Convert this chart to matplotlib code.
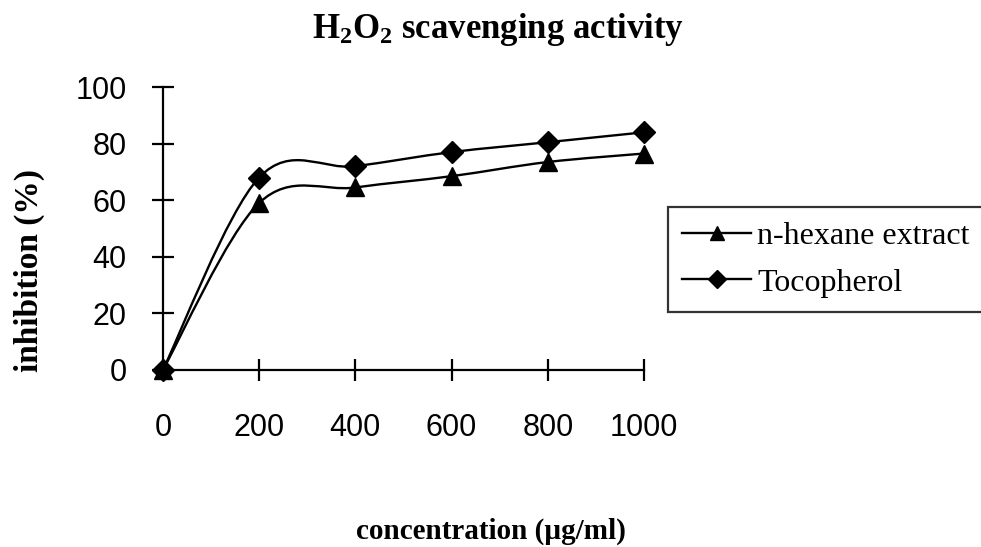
import numpy as np
import matplotlib.pyplot as plt
from matplotlib.path import Path
from matplotlib.patches import PathPatch
from matplotlib.lines import Line2D

concentration = [0, 200, 400, 600, 800, 1000]
hexane = [0, 59, 64.5, 68.5, 73.5, 76.5]
tocopherol = [0, 68, 72, 77, 80.5, 84]
series_names = ["n-hexane extract", "Tocopherol"]


def smooth_path(xs, ys):
    # excel-style smoothed line: cubic bezier through every point
    pts = np.column_stack([xs, ys]).astype(float)
    ext = np.vstack([pts[0], pts, pts[-1]])
    verts = [pts[0]]
    codes = [Path.MOVETO]
    for i in range(len(pts) - 1):
        p0, p1, p2, p3 = ext[i], ext[i + 1], ext[i + 2], ext[i + 3]
        verts += [p1 + (p2 - p0) / 6, p2 - (p3 - p1) / 6, p2]
        codes += [Path.CURVE4] * 3
    return Path(verts, codes)


plt.rcParams["mathtext.fontset"] = "custom"
plt.rcParams["mathtext.bf"] = "Liberation Serif:bold"
plt.rcParams["mathtext.rm"] = "Liberation Serif"

fig = plt.figure(figsize=(9.81, 5.47), dpi=100)
ax = fig.add_axes([0.166, 0.3236, 0.4905, 0.5173])

markers = ["^", "D"]
msizes = [13, 11]
for ys, m, ms in zip([hexane, tocopherol], markers, msizes):
    ax.add_patch(PathPatch(smooth_path(concentration, ys), fill=False,
                           edgecolor="black", lw=1.7, zorder=2))
    ax.plot(concentration, ys, linestyle="none", marker=m, ms=ms,
            color="black", clip_on=False, zorder=3)

ax.set_xlim(0, 1000)
ax.set_ylim(0, 100)
ax.set_xticks(concentration)
ax.set_yticks(range(0, 101, 20))
ax.spines["top"].set_visible(False)
ax.spines["right"].set_visible(False)
for s in ["left", "bottom"]:
    ax.spines[s].set_linewidth(1.6)
ax.tick_params(direction="inout", length=16, width=1.6,
               labelsize=22, labelfontfamily="Liberation Sans")
ax.tick_params(axis="x", pad=23)
ax.tick_params(axis="y", pad=18)

fig.text(0.508, 1 - 30 / 547, r"$\mathbf{H_2O_2}$ scavenging activity",
         ha="center", va="center", fontsize=25, fontweight="bold",
         family="Liberation Serif")
fig.text(29 / 981, 1 - 270 / 547, "inhibition (%)", rotation=90,
         ha="center", va="center", fontsize=24, fontweight="bold",
         family="Liberation Serif")
fig.text(0.5, 1 - 531 / 547, "concentration (\u00b5g/ml)", ha="center",
         va="center", fontsize=21, fontweight="bold",
         family="Liberation Serif")

handles = [Line2D([], [], color="black", lw=1.7, marker=m, ms=ms * 0.8)
           for m, ms in zip(markers, msizes)]
leg = fig.legend(handles, series_names, loc="upper left",
                 bbox_to_anchor=(668 / 981, 1 - 207 / 547),
                 prop={"family": "Liberation Serif", "size": 23},
                 frameon=True, fancybox=False, edgecolor="black",
                 handlelength=2.15, handletextpad=0.2, borderpad=0.45,
                 labelspacing=0.55, borderaxespad=0)
leg.get_frame().set_linewidth(1.6)

fig.savefig("out.png", dpi=100)
